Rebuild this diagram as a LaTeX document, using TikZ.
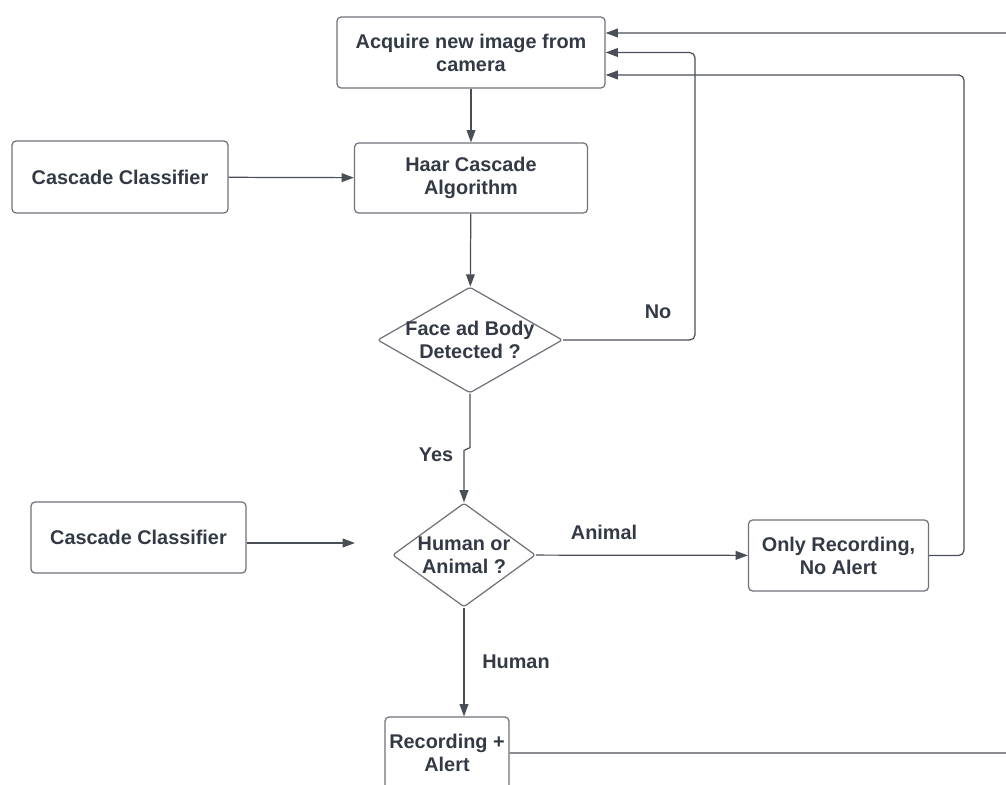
\documentclass[tikz,border=0pt]{standalone}
\usepackage{fontspec}
\setmainfont{Liberation Sans}
\usepackage{xcolor}
\definecolor{colorLine}{HTML}{4A4F57}
\definecolor{colorBorder}{HTML}{6E7279}
\definecolor{colorText}{HTML}{333A45}
\usetikzlibrary{arrows.meta, shapes.geometric, calc}
\tikzset{
  flowtext/.style={font=\bfseries\fontsize{11.3}{13}\selectfont, text=colorText, align=center},
  procbox/.style={draw=colorBorder, line width=0.7pt, rounded corners=2.3pt, inner sep=0pt, flowtext},
  decision/.style={draw=colorBorder, line width=0.7pt, diamond, rounded corners=1.5pt, inner sep=0pt},
  flowlabel/.style={flowtext},
}

\begin{document}
\begin{tikzpicture}[x=0.02cm, y=-0.02cm, >={Triangle[length=7pt, width=5pt]},
  color=colorLine, line width=0.7pt]
\clip (0,0) rectangle (1006,784);
\node[procbox, minimum width=5.36cm, minimum height=1.42cm] (acq) at (471,52.5) {Acquire new image from\\camera};
\node[procbox, minimum width=4.32cm, minimum height=1.44cm] (cc1) at (120,177) {Cascade Classifier};
\node[procbox, minimum width=4.66cm, minimum height=1.40cm] (haar) at (471,178) {Haar Cascade\\Algorithm};
\node[decision, minimum width=3.7cm, minimum height=2.12cm,
  label={[flowtext]center:Face ad Body\\Detected ?}] (face) at (470,340) {};
\node[procbox, minimum width=4.3cm, minimum height=1.42cm] (cc2) at (138.5,537.5) {Cascade Classifier};
\node[decision, minimum width=2.86cm, minimum height=2.08cm,
  label={[flowtext]center:Human or\\Animal ?}] (kind) at (464,555) {};
\node[procbox, minimum width=3.6cm, minimum height=1.42cm] (only) at (838.5,555.5) {Only Recording,\\No Alert};
\node[procbox, minimum width=2.48cm, minimum height=1.44cm] (rec) at (447,753) {Recording +\\Alert};
\coordinate (cc2end) at (355,543);

% main flow
\draw[->] (acq) -- (haar);
\draw[->] (cc1) -- (haar);
\draw[->] (haar) -- (face);
\draw[->] (face.south) -- ($(face.south)+(0,54)$) -- ($(kind.north)+(0,-52)$) -- (kind.north);
\draw[->] (cc2.east |- cc2end) -- (cc2end);
\draw[->] (kind) -- (only);
\draw[->] (kind.south) -- (kind.south |- rec.north);

% loops back to the camera
\draw[->, rounded corners=3pt] (face.east) -| (695,52.5) -- (acq.east);
\draw[->, rounded corners=3pt] (only.east) -| (964,75) -- ($(acq.east)+(0,22.5)$);
\draw[->, rounded corners=3pt] (rec.east) -- (1030,753) |- ($(acq.east)+(0,-19.5)$);

\node[flowlabel] (no) at (658,312) {No};
\node[flowlabel] (yes) at (436,455) {Yes};
\node[flowlabel] (animal) at (604,532) {Animal};
\node[flowlabel] (human) at (516,662) {Human};
\end{tikzpicture}
\end{document}
